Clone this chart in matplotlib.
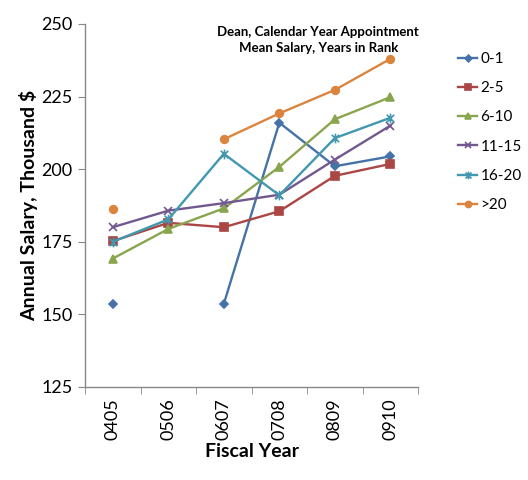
import numpy as np
import matplotlib
matplotlib.use('Agg')
import matplotlib.pyplot as plt
from matplotlib.path import Path

plt.rcParams['font.family'] = ['Lato', 'DejaVu Sans']

years = ['0405', '0506', '0607', '0708', '0809', '0910']
labels = ['0-1', '2-5', '6-10', '11-15', '16-20', '>20']
nan = np.nan
s01 = [153.6, nan, 153.6, 216.0, 201.0, 204.4]
s25 = [175.2, 181.5, 180.0, 185.5, 197.7, 201.8]
s610 = [169.2, 179.4, 186.5, 200.8, 217.2, 224.8]
s1115 = [180.0, 185.7, 188.3, 191.2, 203.3, 215.0]
s1620 = [175.0, 182.7, 205.3, 191.0, 210.7, 217.7]
s20 = [186.2, nan, 210.3, 219.2, 227.3, 238.0]
series = [s01, s25, s610, s1115, s1620, s20]

colors = ['#4572A7', '#AA4643', '#89A54E', '#71588F', '#4198AF', '#DB843D']
# excel style star: x with a vertical bar
star = Path([(-1, -1), (1, 1), (-1, 1), (1, -1), (0, -1.3), (0, 1.3)],
            [Path.MOVETO, Path.LINETO, Path.MOVETO, Path.LINETO, Path.MOVETO, Path.LINETO])
markers = ['D', 's', '^', 'x', star, 'o']
msizes = [4.3, 5.5, 6, 6, 7, 5.5]

fig = plt.figure(figsize=(5.28, 4.8), dpi=100)
ax = fig.add_axes([0.161, 0.194, 0.631, 0.756])

x = np.arange(len(years))
for ys, lab, c, m, ms in zip(series, labels, colors, markers, msizes):
    ax.plot(x, ys, color=c, marker=m, markersize=ms, linewidth=1.7,
            markeredgecolor=c, markerfacecolor=c, markeredgewidth=1.2, label=lab)

ax.set_xlim(-0.5, 5.5)
ax.set_ylim(125, 250)
ax.set_yticks(np.arange(125, 251, 25))
ax.set_xticks(x)
ax.set_xticklabels(years, rotation=90, fontsize=13)
ax.set_xticks(np.arange(-0.5, 5.6, 1), minor=True)
ax.tick_params(axis='x', which='major', length=0, pad=8)
ax.tick_params(axis='x', which='minor', length=5, color='#888888', direction='out')
ax.tick_params(axis='y', length=5, color='#888888', direction='out', labelsize=13, pad=4)
for sp in ['top', 'right']:
    ax.spines[sp].set_visible(False)
for sp in ['left', 'bottom']:
    ax.spines[sp].set_color('#888888')
    ax.spines[sp].set_linewidth(1)

ax.set_xlabel('Fiscal Year', fontsize=14, fontweight='bold', labelpad=2)
ax.set_ylabel('Annual Salary, Thousand $', fontsize=14, fontweight='bold', labelpad=2)

ax.text(0.7, 0.995, 'Dean, Calendar Year Appointment\nMean Salary, Years in Rank',
        transform=ax.transAxes, ha='center', va='top', fontsize=9.5,
        fontweight='bold', linespacing=1.4)

leg = ax.legend(loc='upper left', bbox_to_anchor=(1.1, 0.94), frameon=False,
                fontsize=11, handlelength=1.3, handletextpad=0.2, labelspacing=1.0,
                borderaxespad=0, markerscale=0.8)

fig.savefig('out.png', dpi=100)
